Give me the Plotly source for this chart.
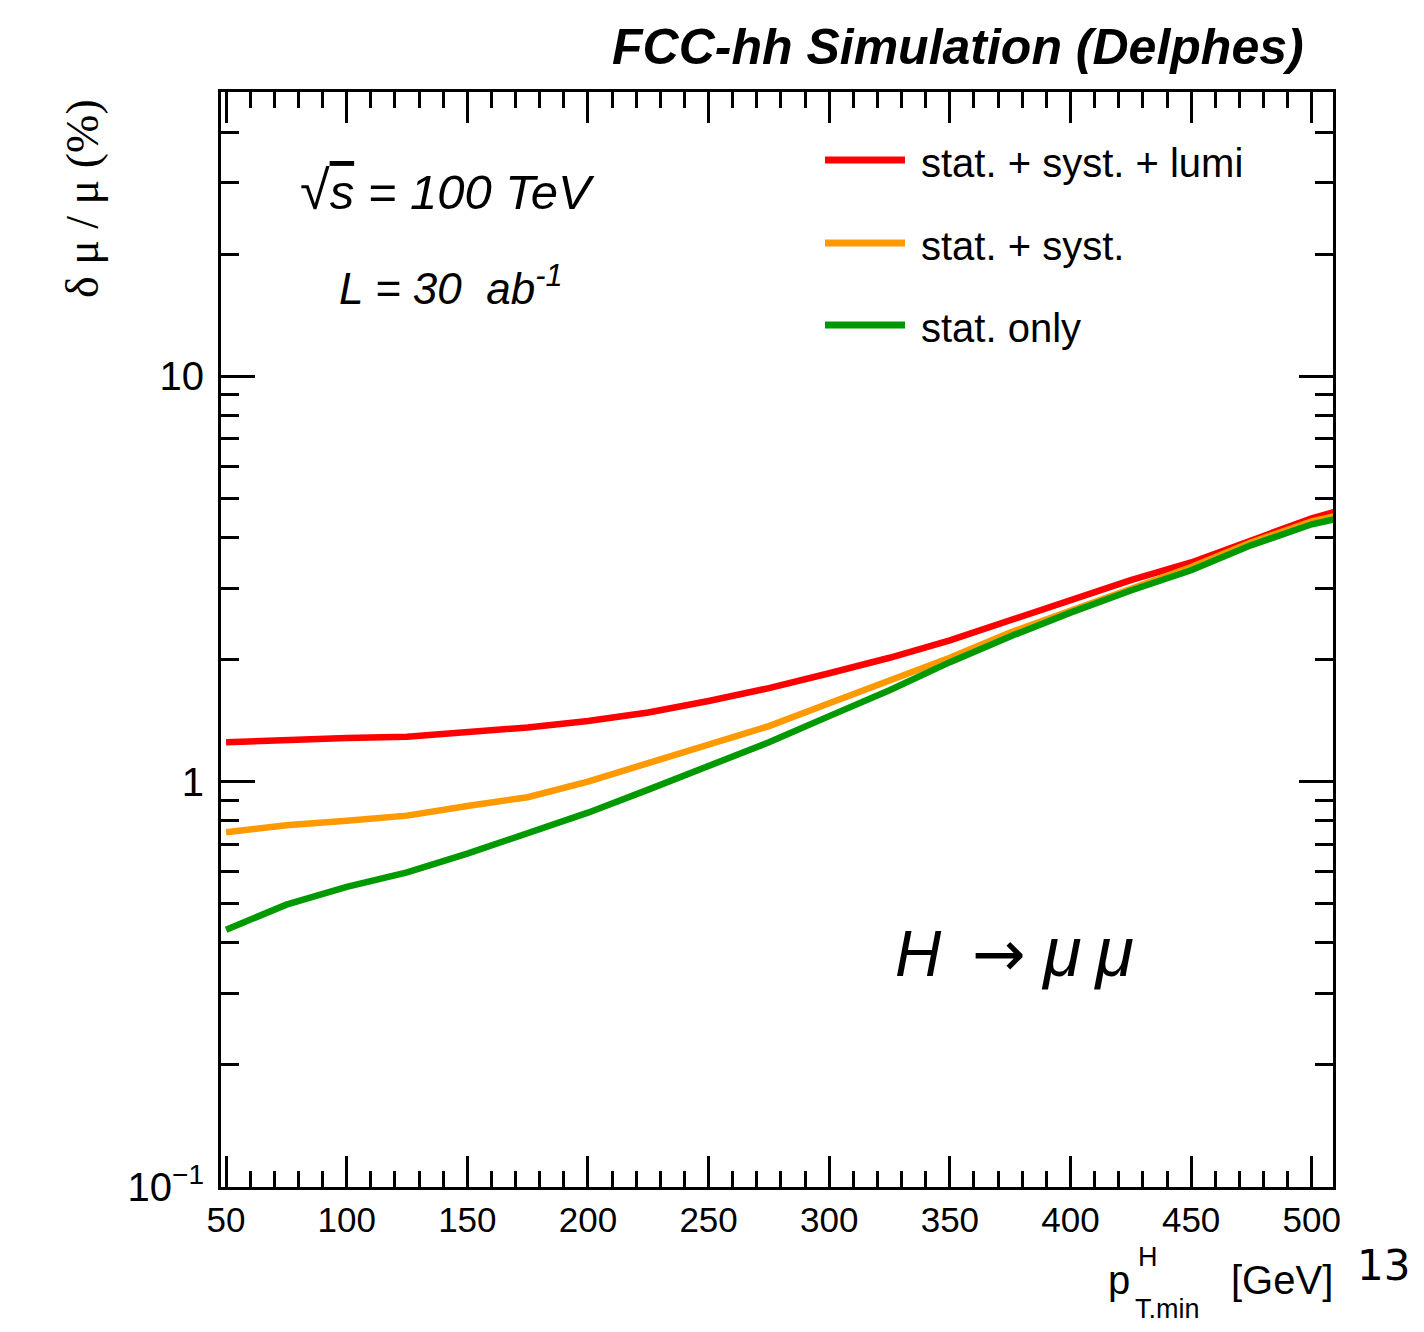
import math
import plotly.graph_objects as go

# ---------------- data ----------------
pt_min = [50, 75, 100, 125, 150, 175, 200, 225, 250, 275, 300, 325, 350,
          375, 400, 425, 450, 475, 500, 510]
err_stat_syst_lumi = [1.25, 1.27, 1.28, 1.29, 1.32, 1.36, 1.41, 1.48, 1.58, 1.70,
                      1.85, 2.02, 2.23, 2.50, 2.80, 3.14, 3.47, 3.94, 4.46, 4.63]
err_stat_syst = [0.75, 0.78, 0.80, 0.824, 0.87, 0.915, 1.00, 1.11, 1.23, 1.37,
                 1.56, 1.78, 2.02, 2.33, 2.64, 3.00, 3.38, 3.89, 4.38, 4.52]
err_stat_only = [0.431, 0.497, 0.550, 0.597, 0.664, 0.744, 0.838, 0.955, 1.09, 1.25,
                 1.45, 1.68, 1.97, 2.28, 2.61, 2.96, 3.32, 3.83, 4.31, 4.44]

series_names = ["stat. + syst. + lumi", "stat. + syst.", "stat. only"]
series_values = [err_stat_syst_lumi, err_stat_syst, err_stat_only]
series_colors = ["#FF0000", "#FF9900", "#009900"]

x_major_ticks = [50, 100, 150, 200, 250, 300, 350, 400, 450, 500]
x_minor_ticks = [v for v in range(50, 510, 10) if v not in x_major_ticks]
y_major_ticks = [0.1, 1, 10]
y_major_text = ["10<sup>\u22121</sup>", "1", "10"]
y_minor_ticks = [m * d for d in (0.1, 1, 10) for m in range(2, 10) if m * d <= 50]

# ---------------- layout constants (pixels) ----------------
W, H = 1424, 1332
L, R, T, B = 221, 1333, 92, 1187
PW, PH = R - L, B - T


def px(x):
    return (x - L) / PW


def py(y):
    return (B - y) / PH


FONT = "Liberation Sans"

fig = go.Figure()
for name, vals, col in zip(series_names, series_values, series_colors):
    fig.add_trace(go.Scatter(x=pt_min, y=vals, mode="lines", name=name,
                             line=dict(color=col, width=6.5), showlegend=False))

axis_common = dict(showline=True, linewidth=3, linecolor="black", mirror="ticks",
                   ticks="inside", tickwidth=2.5, tickcolor="black",
                   showgrid=False, zeroline=False)

fig.update_xaxes(range=[47.9, 508.8], tickvals=x_major_ticks, ticklen=31,
                 tickfont=dict(family=FONT, size=35, color="black"),
                 minor=dict(tickvals=x_minor_ticks, ticklen=16, tickwidth=2.5,
                            ticks="inside", tickcolor="black", showgrid=False),
                 **axis_common)
fig.update_yaxes(type="log", range=[-1, math.log10(50.2)], tickvals=y_major_ticks,
                 ticktext=y_major_text, ticklen=34, ticklabelstandoff=6,
                 tickfont=dict(family=FONT, size=40, color="black"),
                 minor=dict(tickvals=y_minor_ticks, ticklen=18, tickwidth=2.5,
                            ticks="inside", tickcolor="black", showgrid=False),
                 **axis_common)

annotations = []
shapes = []

# title
annotations.append(dict(text="<b><i>FCC-hh Simulation (Delphes)</i></b>",
                        x=px(1306), y=py(47), xanchor="right", yanchor="middle",
                        font=dict(family=FONT, size=50, color="black")))
# sqrt(s)
annotations.append(dict(text="<span style='font-size:54px'>\u221a</span><span style='text-decoration:overline'><i>s</i></span><i> = 100 TeV</i>",
                        x=px(298), y=py(190), xanchor="left", yanchor="middle",
                        font=dict(family=FONT, size=49, color="black")))
annotations.append(dict(text="<i>L = 30\u00a0\u00a0ab<sup>-1</sup></i>",
                        x=px(337), y=py(285), xanchor="left", yanchor="middle",
                        font=dict(family=FONT, size=44, color="black")))
# process label
annotations.append(dict(text="<i>H</i>\u00a0\u2009<span style='font-family:DejaVu Sans'>\u2192</span>\u00a0<i><span style='font-size:70px'>\u03bc\u2009\u03bc</span></i>",
                        x=px(893), y=py(952), xanchor="left", yanchor="middle",
                        font=dict(family=FONT, size=64, color="black")))
# y title
annotations.append(dict(text="\u03b4 \u03bc / \u03bc (%)", textangle=-90,
                        x=px(82), y=py(199), xanchor="center", yanchor="middle",
                        font=dict(family="Liberation Serif", size=46, color="black")))
# x title pieces
annotations.append(dict(text="[GeV]", x=px(1335), y=py(1280), xanchor="right",
                        yanchor="middle", font=dict(family=FONT, size=40, color="black")))
annotations.append(dict(text="p", x=px(1106), y=py(1280), xanchor="left",
                        yanchor="middle", font=dict(family=FONT, size=40, color="black")))
annotations.append(dict(text="H", x=px(1136), y=py(1257), xanchor="left",
                        yanchor="middle", font=dict(family=FONT, size=27, color="black")))
annotations.append(dict(text="T.min", x=px(1133), y=py(1309), xanchor="left",
                        yanchor="middle", font=dict(family=FONT, size=27, color="black")))
# page number
annotations.append(dict(text="13", x=px(1355), y=py(1265), xanchor="left",
                        yanchor="middle", font=dict(family="DejaVu Sans", size=42, color="black")))

# legend (manual)
leg_y = [160, 243, 325]
for name, col, yy in zip(series_names, series_colors, leg_y):
    shapes.append(dict(type="line", xref="paper", yref="paper",
                       x0=px(825), x1=px(905), y0=py(yy), y1=py(yy),
                       line=dict(color=col, width=7)))
    annotations.append(dict(text=name, x=px(919), y=py(yy + 3), xanchor="left",
                            yanchor="middle", font=dict(family=FONT, size=40, color="black")))

for a in annotations:
    a.setdefault("xref", "paper")
    a.setdefault("yref", "paper")
    a.setdefault("showarrow", False)

fig.update_layout(width=W, height=H, autosize=False,
                  margin=dict(l=L, r=W - R, t=T, b=H - B),
                  paper_bgcolor="white", plot_bgcolor="white",
                  annotations=annotations, shapes=shapes, showlegend=False)

fig.write_html("out.html")
